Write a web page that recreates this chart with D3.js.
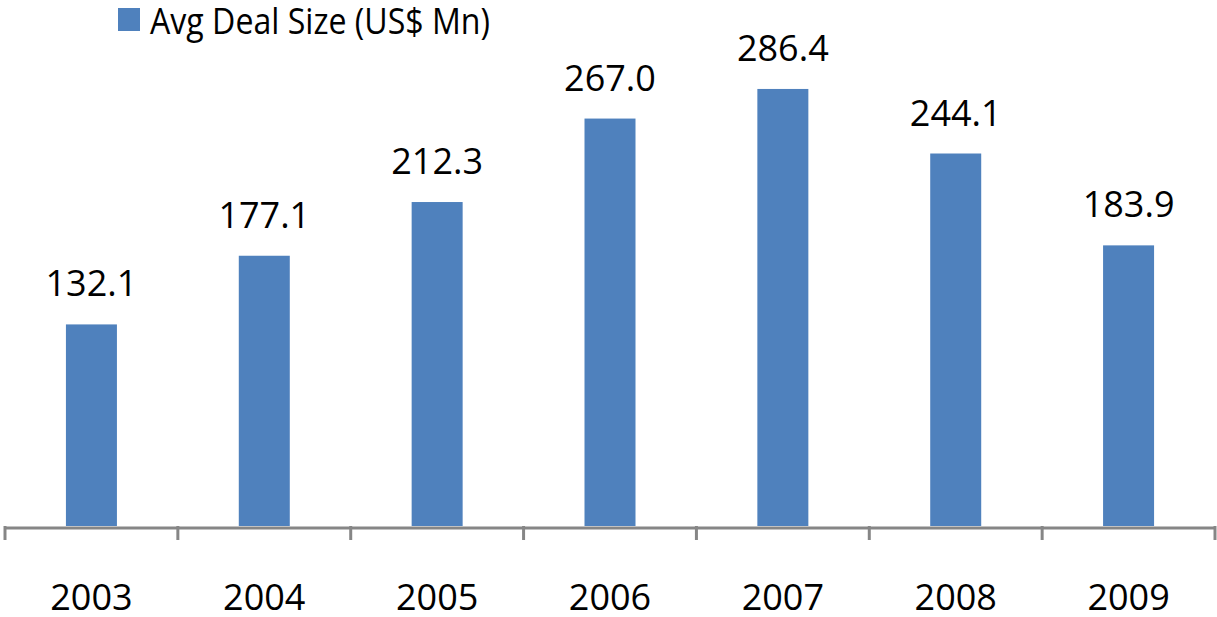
<!DOCTYPE html>
<html><head><meta charset="utf-8">
<script src="https://cdn.jsdelivr.net/npm/d3@7"></script>
<style>html,body{margin:0;padding:0;background:#fff;}svg{display:block;}</style>
</head><body>
<svg id="chart" width="1217" height="617"></svg>
<script>
const categories = ["2003","2004","2005","2006","2007","2008","2009"];
const values = [132.1, 177.1, 212.3, 267.0, 286.4, 244.1, 183.9];
const seriesName = "Avg Deal Size (US$ Mn)";

const svg = d3.select("#chart");
const font = "'Open Sans', sans-serif";
const baseY = 526;
const x = d3.scaleBand().domain(categories).range([5, 1215]).paddingInner(0).paddingOuter(0);
const y = d3.scaleLinear().domain([0, 300]).range([baseY, baseY - 457.8]);
const barW = 51;

svg.selectAll("rect.bar").data(values).join("rect")
  .attr("class","bar")
  .attr("x",(d,i)=>x(categories[i]) + x.bandwidth()/2 - barW/2)
  .attr("y",d=>y(d))
  .attr("width",barW)
  .attr("height",d=>baseY - y(d))
  .attr("fill","#4F81BD");

svg.selectAll("text.val").data(values).join("text")
  .attr("class","val")
  .attr("x",(d,i)=>x(categories[i]) + x.bandwidth()/2)
  .attr("y",d=>y(d) - 28)
  .attr("text-anchor","middle")
  .attr("font-family",font).attr("font-size",36).attr("fill","#000")
  .text(d=>d.toFixed(1));

// axis
const axis = d3.axisBottom(x).tickSize(0).tickPadding(0);
const g = svg.append("g").attr("transform",`translate(0,${baseY+1.5})`).call(axis);
g.select(".domain").attr("stroke","#868686").attr("stroke-width",3);
g.selectAll(".tick line").remove();
g.selectAll(".tick text").attr("font-family",font).attr("font-size",36).attr("fill","#000")
  .attr("dy",null).attr("y",82);
const bounds = categories.map(c=>x(c)).concat([x.range()[1]]);
svg.selectAll("line.tk").data(bounds).join("line")
  .attr("class","tk")
  .attr("x1",d=>d).attr("x2",d=>d)
  .attr("y1",baseY).attr("y2",baseY+14)
  .attr("stroke","#868686").attr("stroke-width",3);

// legend
svg.append("rect").attr("x",118).attr("y",8).attr("width",22).attr("height",23).attr("fill","#4F81BD");
svg.append("text").attr("x",150).attr("y",34).attr("font-family",font).attr("font-size",36)
  .attr("textLength",340).attr("lengthAdjust","spacingAndGlyphs")
  .attr("fill","#000").text(seriesName);
</script>
</body></html>
